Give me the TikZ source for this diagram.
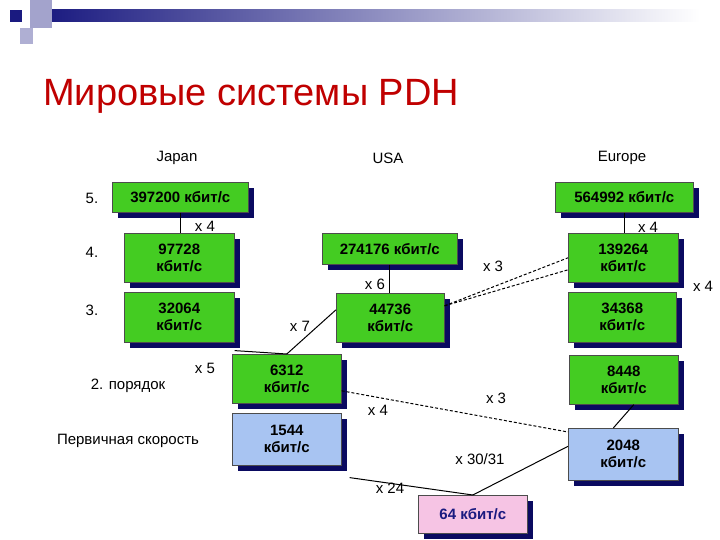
\documentclass[tikz,border=0pt]{standalone}
\usepackage{fontspec}
\setmainfont{Liberation Sans}
\begin{document}
\begin{tikzpicture}[x=1pt,y=-1pt,
 bx/.style={draw=black!70,line width=0.6pt,font=\bfseries\fontsize{15}{17}\selectfont,align=center,inner sep=0pt,anchor=north west,
   drop shadow={shadow xshift=6pt,shadow yshift=-6pt,fill=shdw,opacity=1}},
 lb/.style={font=\fontsize{15}{17}\selectfont,inner sep=0pt},
 ln/.style={line width=1pt},
 dl/.style={line width=1pt,dashed,dash pattern=on 3pt off 2pt}]
\definecolor{gr}{HTML}{44CC22}
\definecolor{bl}{HTML}{A8C4F2}
\definecolor{pk}{HTML}{F6C4E4}
\definecolor{shdw}{HTML}{0A0A60}
\definecolor{nv}{HTML}{1A1A80}
\definecolor{tr}{HTML}{C00000}
\useasboundingbox (0,0) rectangle (720,540);
\fill[white] (0,0) rectangle (720,540);
% header
\shade[left color=nv,right color=white] (43,10) rectangle (700,22);
\fill[nv!40] (30,0) rectangle (52,28);
\fill[nv!35] (20,28) rectangle (33,44);
\fill[nv] (10,10) rectangle (22,22);
\node[anchor=west,text=tr,font=\fontsize{38}{40}\selectfont,inner sep=0pt] (title) at (43,96) {Мировые системы PDH};
\node[lb] (jp) at (177,158) {Japan};
\node[lb] (us) at (388,158) {USA};
\node[lb] (eu) at (622,158) {Europe};
\node[lb] (l5) at (92,198) {5.};
\node[lb] (l4) at (92,252) {4.};
\node[lb] (l3) at (92,310) {3.};
\node[lb] (l2) at (128,386) {2. порядок};
\node[lb] (l1) at (128,441) {Первичная скорость};
\usetikzlibrary{shadows}
\node[bx,fill=gr,minimum width=136pt,minimum height=30pt] (a5) at (112,182) {397200 кбит/с};
\node[bx,fill=gr,minimum width=138pt,minimum height=30pt] (e5) at (555,182) {564992 кбит/с};
\node[bx,fill=gr,minimum width=110pt,minimum height=49pt] (a4) at (124,233) {97728\\кбит/с};
\node[bx,fill=gr,minimum width=135pt,minimum height=31pt] (u4) at (322,233) {274176 кбит/с};
\node[bx,fill=gr,minimum width=110pt,minimum height=49pt] (e4) at (568,233) {139264\\кбит/с};
\node[bx,fill=gr,minimum width=110pt,minimum height=50pt] (a3) at (124,292) {32064\\кбит/с};
\node[bx,fill=gr,minimum width=108pt,minimum height=49pt] (u3) at (336,293) {44736\\кбит/с};
\node[bx,fill=gr,minimum width=108pt,minimum height=50pt] (e3) at (568,292) {34368\\кбит/с};
\node[bx,fill=gr,minimum width=109pt,minimum height=49pt] (a2) at (232,354) {6312\\кбит/с};
\node[bx,fill=gr,minimum width=109pt,minimum height=49pt] (e2) at (569,355) {8448\\кбит/с};
\node[bx,fill=bl,minimum width=109pt,minimum height=52pt] (a1) at (232,413) {1544\\кбит/с};
\node[bx,fill=bl,minimum width=110pt,minimum height=52pt] (e1) at (568,428) {2048\\кбит/с};
\node[bx,fill=pk,text=nv,minimum width=109pt,minimum height=38pt] (z) at (418,495) {64 кбит/с};
% connectors
\draw[ln] (a5.south) -- (a4.north -| a5.south);
\draw[ln] (e5.south) -- (e4.north -| e5.south);
\draw[ln] (u4.south) -- (u3.north -| u4.south);
\draw[dl] (u3.east) ++(0,-12) coordinate (c1) -- (e4.west) ++(0,-12);
\draw[dl] (c1) -- ([yshift=-12pt]e4.west);
\draw[ln] ([yshift=-8pt]a3.south east) -- (a2.north);
\draw[ln] ([yshift=8pt]u3.west) -- (a2.north);
\draw[dl] ([yshift=-12pt]a2.east) -- ([yshift=-4pt]e1.north west);
\draw[ln] ([xshift=8pt,yshift=-12pt]a1.south east) -- (z.north);
\draw[ln] ([yshift=8pt]e1.west) -- (z.north);
\draw[ln] ([xshift=10pt]e2.south) -- ([xshift=-10pt]e1.north);
% labels
\node[lb] (k1) at (205,226) {x 4};
\node[lb] (k2) at (648,227) {x 4};
\node[lb] (k3) at (703,286) {x 4};
\node[lb] (k4) at (375,284) {x 6};
\node[lb] (k5) at (493,266) {x 3};
\node[lb] (k6) at (300,326) {x 7};
\node[lb] (k7) at (205,368) {x 5};
\node[lb] (k8) at (496,398) {x 3};
\node[lb] (k9) at (378,410) {x 4};
\node[lb] (k10) at (480,459) {x 30/31};
\node[lb] (k11) at (390,488) {x 24};
\end{tikzpicture}
\end{document}
